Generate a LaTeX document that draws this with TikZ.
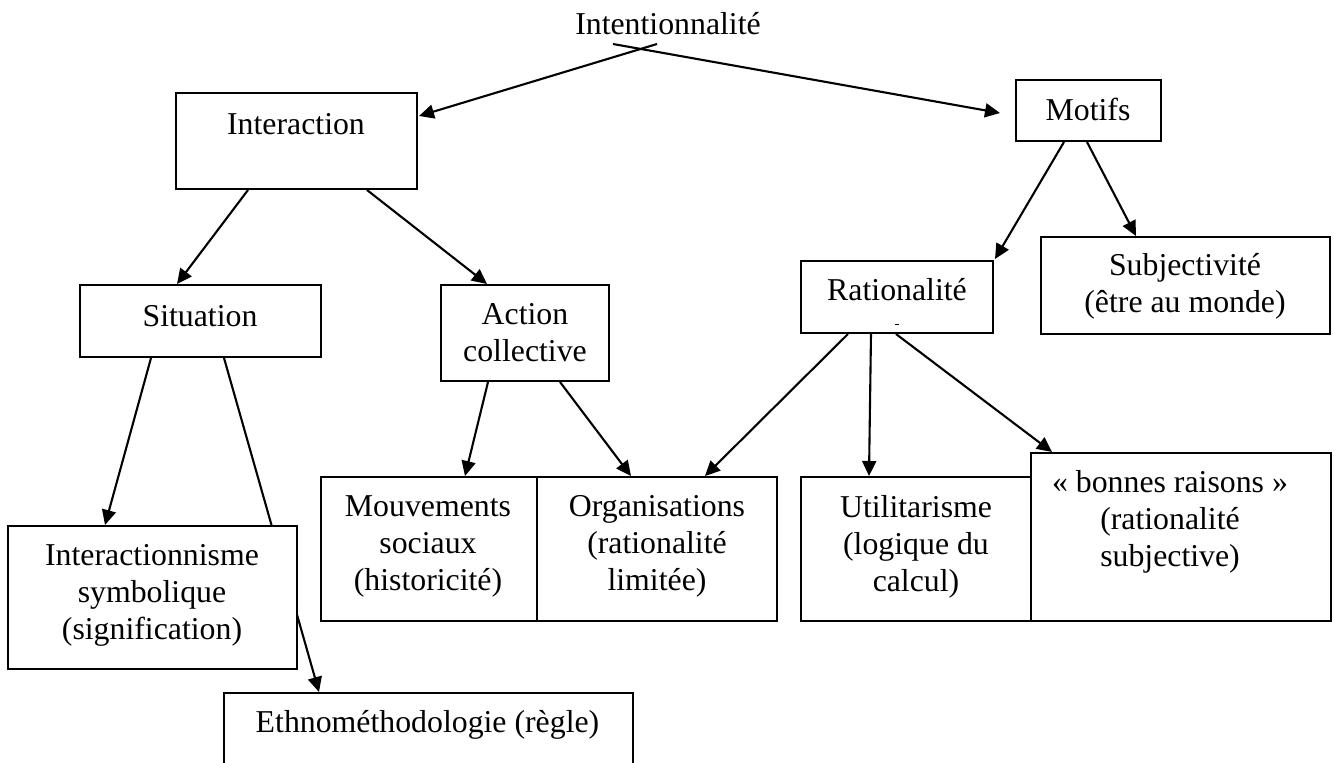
\documentclass[tikz,border=0pt]{standalone}
\usepackage{fontspec}
\setmainfont{Liberation Serif}
\usetikzlibrary{calc,arrows.meta,backgrounds}
\tikzset{
  box/.style={draw, line width=1pt, fill=white, rectangle, inner sep=0pt},
  txt/.style={inner sep=0pt, anchor=base, font=\fontsize{15.9pt}{18.5pt}\selectfont},
  arr/.style={line width=1.05pt, -{Triangle[length=7.5pt,width=7pt]}},
  plain/.style={line width=1pt}
}
\newcommand{\ml}[1]{\begin{tabular}[t]{@{}c@{}}#1\end{tabular}}
\begin{document}
\begin{tikzpicture}[x=0.5pt,y=-0.5pt]
\useasboundingbox (0,0) rectangle (1334,762);
\clip (0,0) rectangle (1334,762);
% boxes
\node[box, minimum width=120.5pt, minimum height=48pt] (inter) at (296.5,141) {};
\node[box, minimum width=72.5pt, minimum height=30.5pt] (motifs) at (1088.5,110.5) {};
\node[box, minimum width=120.5pt, minimum height=36pt] (sit) at (200.5,321) {};
\node[box, minimum width=84pt, minimum height=48pt] (act) at (525,333) {};
\node[box, minimum width=96pt, minimum height=36pt] (rat) at (897,297) {};
\node[box, minimum width=144.5pt, minimum height=48.5pt] (subj) at (1185.5,285.5) {};
\node[box, minimum width=144.5pt, minimum height=71.5pt] (interac) at (152.5,597.5) {};
\node[box, minimum width=108pt, minimum height=72pt] (mouv) at (429,549) {};
\node[box, minimum width=120pt, minimum height=72pt] (org) at (657,549) {};
\node[box, minimum width=115pt, minimum height=72pt] (util) at (916,549) {};
\node[box, minimum width=150pt, minimum height=84pt] (bonnes) at (1181,537) {};
\node[box, minimum width=204.5pt, minimum height=53.5pt] (eth) at (428.5,746.5) {};
% texts
\node[txt] (intent) at (668,34) {Intentionnalité};
\node[txt] (tinter) at (296,134) {Interaction};
\node[txt] (tmotifs) at (1088,120) {Motifs};
\node[txt] (tsit) at (200,326) {Situation};
\node[txt] (tact) at (525,324) {\ml{Action\\collective}};
\node[txt] (trat) at (897,300) {Rationalité};
\node[txt] (tsubj) at (1185,275) {\ml{Subjectivité\\(être au monde)}};
\node[txt] (tmouv) at (428,516) {\ml{Mouvements\\sociaux\\(historicité)}};
\node[txt] (torg) at (657,516) {\ml{Organisations\\(rationalité\\limitée)}};
\node[txt] (tutil) at (916,517) {\ml{Utilitarisme\\(logique du\\calcul)}};
\node[txt] (tbonnes) at (1170,492) {\ml{« bonnes raisons »\\(rationalité\\subjective)}};
\node[txt] (tinterac) at (152,565) {\ml{Interactionnisme\\symbolique\\(signification)}};
\node[txt] (teth) at (427.5,732) {Ethnométhodologie (règle)};
% small mark in Rationalité box
\draw[line width=0.5pt] ($(rat.south)+(-2,-10)$) -- ($(rat.south)+(2,-10)$);
% connectors
\draw[arr] ($(intent.base)+(-11,10)$) -- ($(inter.north east)+(1,24)$);
\draw[arr] ($(intent.base)+(-55,10)$) -- ($(motifs.west)+(-15,2.5)$);
\draw[arr] ($(inter.south west)+(73,0)$) -- ($(sit.north west)+(98,0)$);
\draw[arr] ($(inter.south west)+(192,0)$) -- ($(act.north west)+(47,0)$);
\draw[arr] ($(motifs.south west)+(49,0)$) -- ($(rat.north east)+(1,-1)$);
\draw[arr] ($(motifs.south west)+(72,0)$) -- ($(subj.north west)+(96,0)$);
\draw[arr] ($(sit.south west)+(72,0)$) -- ($(interac.north west)+(98,0)$);
\begin{scope}[on background layer]
\draw[arr] ($(sit.south west)+(145,0)$) -- ($(eth.north west)+(96,0)$);
\end{scope}
\draw[arr] ($(act.south west)+(48,0)$) -- ($(mouv.north west)+(145,0)$);
\draw[arr] ($(act.south west)+(120,0)$) -- ($(org.north west)+(95,0)$);
\draw[arr] ($(rat.south west)+(48,0)$) -- ($(org.north west)+(169,0)$);
\draw[arr] ($(rat.south west)+(71,0)$) -- ($(util.north west)+(69,0)$);
\draw[arr] ($(rat.south west)+(96,0)$) -- ($(bonnes.north west)+(22,0)$);
\end{tikzpicture}
\end{document}
